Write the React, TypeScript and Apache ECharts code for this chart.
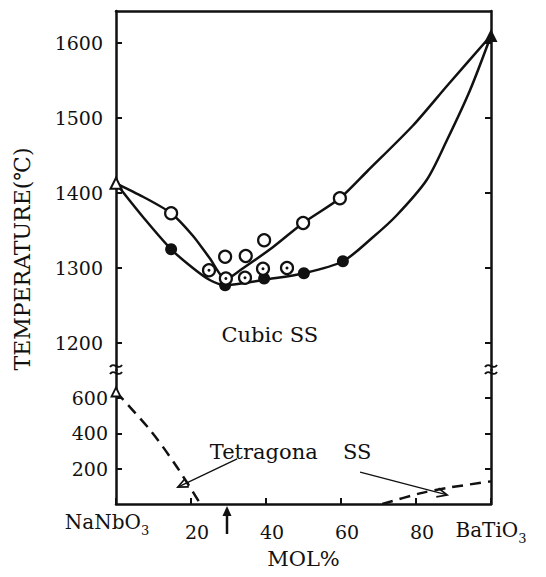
import React, { useEffect, useRef } from 'react';
import * as echarts from 'echarts';

// ---- data ----
const upperTicks = [1200, 1300, 1400, 1500, 1600];
const lowerTicks = [200, 400, 600];
const xTicks = [0, 20, 40, 60, 80, 100];
const xTickLabels = ['NaNbO3', '20', '40', '60', '80', 'BaTiO3'];

// liquidus (upper solid curve)
const liquidusX = [0, 7.2, 14.7, 20.5, 25, 29.3, 33.1, 41.9, 49.9, 59.7, 67, 79.2, 88.3, 100];
const liquidusT = [1413, 1395, 1373, 1343, 1313, 1285, 1297, 1328, 1360, 1393, 1429, 1490, 1543, 1610];
// solidus (lower solid curve)
const solidusX = [0, 7.2, 14.7, 20.5, 25, 29.1, 34.4, 39.2, 50.1, 60.5, 68.5, 74.8, 82.8, 88.3, 94.4, 100];
const solidusT = [1413, 1368, 1325, 1300, 1284, 1277, 1280, 1284, 1293, 1309, 1341, 1370, 1417, 1471, 1537, 1610];

const openX = [14.7, 29.1, 34.6, 39.5, 49.9, 59.7];
const openT = [1373, 1315, 1316, 1337, 1360, 1393];
const filledX = [14.7, 29.1, 39.5, 50.1, 60.5];
const filledT = [1325, 1277, 1286, 1293, 1309];
const dottedX = [24.8, 29.3, 34.4, 39.2, 45.6];
const dottedT = [1297, 1286, 1287, 1299, 1300];
const endX = [0, 100];
const endT = [1413, 1610];

// tetragonal boundaries (dashed)
const leftDashX = [0, 9.1, 16.2, 22.5];
const leftDashV = [634, 419, 211, 0];
const rightDashX = [71, 81, 88.2, 100];
const rightDashV = [0, 60, 91, 128];

const FONT = 'DejaVu Serif';
const INK = '#111';

const zip = (a: number[], b: number[]) => a.map((v, i) => [v, b[i]]);
const tok = (size: number, extra: any = {}) => ({ fontFamily: FONT, fontSize: size, color: INK, ...extra });

export default function App() {
  const ref = useRef<HTMLDivElement>(null);
  useEffect(() => {
    const chart = echarts.init(ref.current!, null, { renderer: 'svg' });
    const axisLine = { show: true, lineStyle: { color: INK, width: 2.5 } };
    const tick = { show: true, inside: true, length: 6, lineStyle: { color: INK, width: 2 } };
    const yLabel = (margin: number, values: number[]) => ({
      show: true, customValues: values, margin, fontFamily: FONT, fontSize: 19, color: INK,
      formatter: (v: number) => String(v),
    });
    const option: any = {
      animation: false,
      backgroundColor: '#fff',
      textStyle: { fontFamily: FONT, color: INK },
      grid: [
        { left: 116, right: 55, top: 11, height: 359 },
        { left: 116, right: 55, top: 370, height: 134 },
      ],
      xAxis: [
        {
          gridIndex: 0, type: 'value', position: 'top', min: 0, max: 100,
          axisLine: { ...axisLine, onZero: false }, axisTick: { show: false }, axisLabel: { show: false }, splitLine: { show: false },
        },
        {
          gridIndex: 1, type: 'value', position: 'bottom', min: 0, max: 100, interval: 20,
          axisLine: { ...axisLine, onZero: false }, axisTick: tick, splitLine: { show: false },
          name: 'MOL%', nameLocation: 'middle', nameGap: 44,
          nameTextStyle: { fontFamily: FONT, fontSize: 21, color: INK },
          axisLabel: {
            show: true, margin: 3, color: INK, fontFamily: FONT,
            formatter: (v: number) => {
              const i = xTicks.indexOf(v);
              if (i < 0) return '';
              const s = xTickLabels[i];
              if (s === 'NaNbO3') return '{a|NaNbO}{as|3}';
              if (s === 'BaTiO3') return '{sp2| }\n{a|BaTiO}{s|3}';
              return '{sp| }\n{n|' + s + '}';
            },
            rich: {
              a: tok(20, { verticalAlign: 'middle', lineHeight: 24 }),
              as: tok(13, { verticalAlign: 'bottom', lineHeight: 30, padding: [0, 18, 0, 0] }),
              s: tok(13, { verticalAlign: 'bottom', lineHeight: 30 }),
              n: tok(19, { verticalAlign: 'middle', lineHeight: 24, padding: [0, 0, 0, 12] }),
              sp: tok(4, { lineHeight: 13 }),
              sp2: tok(4, { lineHeight: 8 }),
            },
          },
        },
      ],
      yAxis: [
        {
          gridIndex: 0, type: 'value', position: 'left', min: 1164, max: 1642.67,
          axisLine, axisTick: { ...tick, customValues: upperTicks }, splitLine: { show: false },
          axisLabel: yLabel(13, upperTicks),
        },
        {
          gridIndex: 0, type: 'value', position: 'right', min: 1164, max: 1642.67,
          axisLine, axisTick: { ...tick, customValues: upperTicks }, splitLine: { show: false },
          axisLabel: { show: false },
        },
        {
          gridIndex: 1, type: 'value', position: 'left', min: 0, max: 758.5,
          axisLine, axisTick: { ...tick, customValues: lowerTicks }, splitLine: { show: false },
          axisLabel: yLabel(8, lowerTicks),
        },
        {
          gridIndex: 1, type: 'value', position: 'right', min: 0, max: 758.5,
          axisLine, axisTick: { ...tick, customValues: lowerTicks }, splitLine: { show: false },
          axisLabel: { show: false },
        },
      ],
      series: [
        {
          type: 'line', xAxisIndex: 0, yAxisIndex: 0, data: zip(liquidusX, liquidusT), smooth: 0.25,
          showSymbol: false, symbol: 'none', lineStyle: { color: INK, width: 2.5 }, clip: false, z: 2,
        },
        {
          type: 'line', xAxisIndex: 0, yAxisIndex: 0, data: zip(solidusX, solidusT), smooth: 0.3,
          showSymbol: false, symbol: 'none', lineStyle: { color: INK, width: 2.5 }, clip: false, z: 2,
        },
        {
          type: 'scatter', xAxisIndex: 0, yAxisIndex: 0, data: zip(openX, openT), symbol: 'circle', symbolSize: 12,
          itemStyle: { color: '#fff', borderColor: INK, borderWidth: 2.2, opacity: 1 }, clip: false, z: 3,
        },
        {
          type: 'scatter', xAxisIndex: 0, yAxisIndex: 0, data: zip(filledX, filledT), symbol: 'circle', symbolSize: 12,
          itemStyle: { color: INK, opacity: 1 }, clip: false, z: 3,
        },
        {
          type: 'scatter', xAxisIndex: 0, yAxisIndex: 0, data: zip(dottedX, dottedT), symbol: 'circle', symbolSize: 12,
          itemStyle: { color: '#fff', borderColor: INK, borderWidth: 2.2, opacity: 1 }, clip: false, z: 4,
        },
        {
          type: 'scatter', xAxisIndex: 0, yAxisIndex: 0, data: zip(dottedX, dottedT), symbol: 'circle', symbolSize: 3,
          itemStyle: { color: INK, opacity: 1 }, clip: false, z: 5,
        },
        {
          type: 'scatter', xAxisIndex: 0, yAxisIndex: 0, data: [[endX[0], endT[0]]], symbol: 'triangle', symbolSize: 11,
          itemStyle: { color: '#fff', borderColor: INK, borderWidth: 2, opacity: 1 }, clip: false, z: 5,
        },
        {
          type: 'scatter', xAxisIndex: 0, yAxisIndex: 0, data: [[endX[1], endT[1]]], symbol: 'triangle', symbolSize: 13,
          itemStyle: { color: INK, opacity: 1 }, clip: false, z: 5,
        },
        {
          type: 'line', xAxisIndex: 1, yAxisIndex: 2, data: zip(leftDashX, leftDashV), smooth: 0.3,
          showSymbol: false, symbol: 'none', lineStyle: { color: INK, width: 2.5, type: [11, 7] }, clip: false,
        },
        {
          type: 'scatter', xAxisIndex: 1, yAxisIndex: 2, data: [[leftDashX[0], leftDashV[0]]], symbol: 'triangle', symbolSize: 9,
          itemStyle: { color: '#fff', borderColor: INK, borderWidth: 1.8, opacity: 1 }, clip: false, z: 5,
        },
        {
          type: 'line', xAxisIndex: 1, yAxisIndex: 2, data: zip(rightDashX, rightDashV), smooth: 0.3,
          showSymbol: false, symbol: 'none', lineStyle: { color: INK, width: 2.5, type: [11, 7] }, clip: false,
        },
      ],
    };
    chart.setOption(option);

    const p0 = (x: number, y: number) => chart.convertToPixel({ xAxisIndex: 0, yAxisIndex: 0 }, [x, y]) as number[];
    const p1 = (x: number, y: number) => chart.convertToPixel({ xAxisIndex: 1, yAxisIndex: 2 }, [x, y]) as number[];

    const g: any[] = [];
    const txt = (x: number, y: number, text: string, align = 'left', size = 21, rotation = 0) => ({
      type: 'text', x, y, z: 10, rotation,
      style: { text, fontFamily: FONT, fontSize: size, fill: INK, align, verticalAlign: 'middle' },
    });
    const arrow = (from: number[], to: number[], w: number) => {
      const dx = to[0] - from[0], dy = to[1] - from[1];
      const L = Math.hypot(dx, dy);
      const ux = dx / L, uy = dy / L;
      const hl = 10, hw = 4.5;
      const a = [to[0] - ux * hl - uy * hw, to[1] - uy * hl + ux * hw];
      const b = [to[0] - ux * hl + uy * hw, to[1] - uy * hl - ux * hw];
      g.push({ type: 'line', z: 10, shape: { x1: from[0], y1: from[1], x2: to[0], y2: to[1] }, style: { stroke: INK, lineWidth: w } });
      g.push({ type: 'polyline', z: 10, shape: { points: [a, to, b] }, style: { stroke: INK, lineWidth: w + 0.4, fill: null } });
    };

    // region labels
    const c = p0(41, 1211);
    g.push(txt(c[0], c[1], 'Cubic SS', 'center'));
    const t1 = p1(25, 294);
    g.push(txt(t1[0], t1[1], 'Tetragona', 'left'));
    const t2 = p1(60.5, 294);
    g.push(txt(t2[0], t2[1], 'SS', 'left'));
    arrow(p1(32.3, 255), p1(16.5, 96), 1.3);
    arrow(p1(65.1, 181), p1(88.3, 51), 1.3);

    // composition marker below axis
    const base = p1(29.6, 0);
    g.push({ type: 'line', z: 10, shape: { x1: base[0], y1: base[1] + 30, x2: base[0], y2: base[1] + 8 }, style: { stroke: INK, lineWidth: 2.5 } });
    g.push({ type: 'polygon', z: 10, shape: { points: [[base[0], base[1] + 2], [base[0] - 4.5, base[1] + 12], [base[0] + 4.5, base[1] + 12]] }, style: { fill: INK } });

    // axis breaks
    const br = p0(0, 1164);
    const brR = p0(100, 1164);
    [br[0], brR[0]].forEach((bx) => {
      [-4, 3].forEach((off) => {
        const y = br[1] + off;
        g.push({
          type: 'bezierCurve', z: 10,
          shape: { x1: bx - 6, y1: y + 1, cpx1: bx - 2, cpy1: y - 5, cpx2: bx + 2, cpy2: y + 5, x2: bx + 6, y2: y - 1 },
          style: { stroke: INK, lineWidth: 2, fill: null },
        });
      });
    });

    // y-axis title
    g.push(txt(22, 259, 'TEMPERATURE(℃)', 'center', 22, Math.PI / 2));

    chart.setOption({ graphic: g });
    return () => chart.dispose();
  }, []);
  return <div ref={ref} style={{ position: 'fixed', left: 0, top: 0, width: 546, height: 577, background: '#fff' }} />;
}
